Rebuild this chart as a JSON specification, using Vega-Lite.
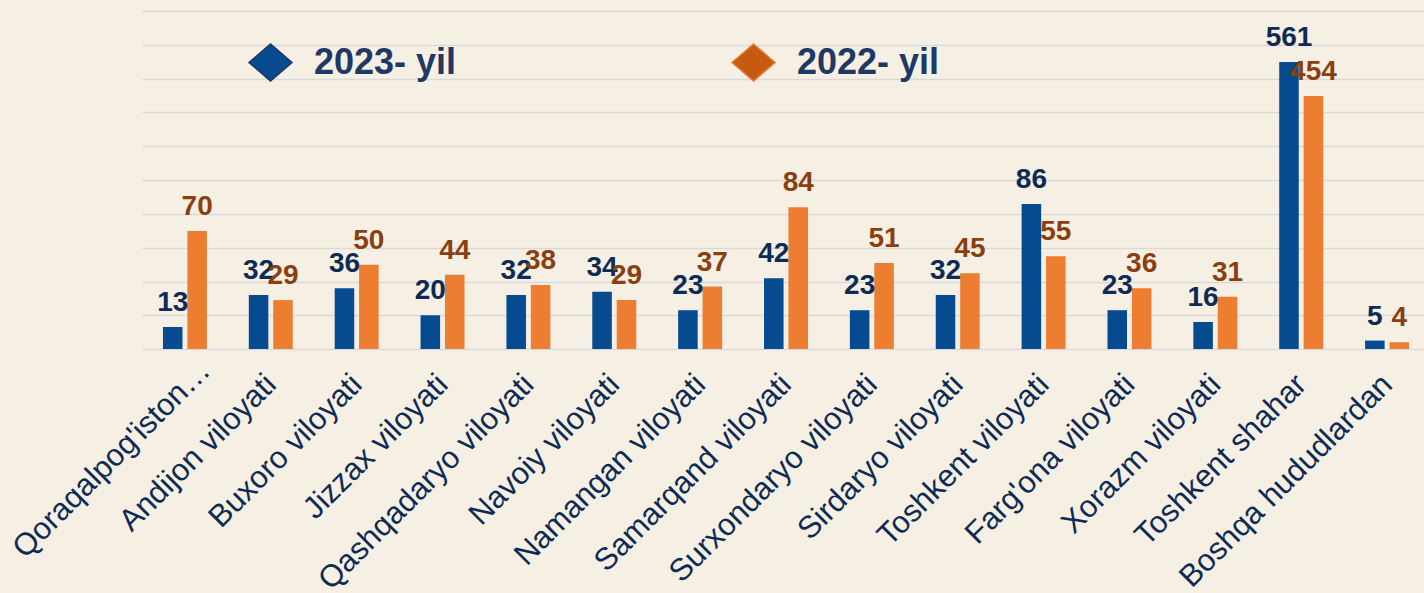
{
  "$schema": "https://vega.github.io/schema/vega-lite/v6.json",
  "width": 1282,
  "height": 338,
  "autosize": {"type": "none"},
  "padding": {"left": 142, "top": 11, "right": 0, "bottom": 244},
  "background": "#f6f0e4",
  "config": {"view": {"stroke": null}, "font": "Liberation Sans"},
  "data": {
    "values": [
      {"region": "Qoraqalpog'iston Respublikasi", "year": "2023- yil", "value": 13},
      {"region": "Qoraqalpog'iston Respublikasi", "year": "2022- yil", "value": 70},
      {"region": "Andijon viloyati", "year": "2023- yil", "value": 32},
      {"region": "Andijon viloyati", "year": "2022- yil", "value": 29},
      {"region": "Buxoro viloyati", "year": "2023- yil", "value": 36},
      {"region": "Buxoro viloyati", "year": "2022- yil", "value": 50},
      {"region": "Jizzax viloyati", "year": "2023- yil", "value": 20},
      {"region": "Jizzax viloyati", "year": "2022- yil", "value": 44},
      {"region": "Qashqadaryo viloyati", "year": "2023- yil", "value": 32},
      {"region": "Qashqadaryo viloyati", "year": "2022- yil", "value": 38},
      {"region": "Navoiy viloyati", "year": "2023- yil", "value": 34},
      {"region": "Navoiy viloyati", "year": "2022- yil", "value": 29},
      {"region": "Namangan viloyati", "year": "2023- yil", "value": 23},
      {"region": "Namangan viloyati", "year": "2022- yil", "value": 37},
      {"region": "Samarqand viloyati", "year": "2023- yil", "value": 42},
      {"region": "Samarqand viloyati", "year": "2022- yil", "value": 84},
      {"region": "Surxondaryo viloyati", "year": "2023- yil", "value": 23},
      {"region": "Surxondaryo viloyati", "year": "2022- yil", "value": 51},
      {"region": "Sirdaryo viloyati", "year": "2023- yil", "value": 32},
      {"region": "Sirdaryo viloyati", "year": "2022- yil", "value": 45},
      {"region": "Toshkent viloyati", "year": "2023- yil", "value": 86},
      {"region": "Toshkent viloyati", "year": "2022- yil", "value": 55},
      {"region": "Farg'ona viloyati", "year": "2023- yil", "value": 23},
      {"region": "Farg'ona viloyati", "year": "2022- yil", "value": 36},
      {"region": "Xorazm viloyati", "year": "2023- yil", "value": 16},
      {"region": "Xorazm viloyati", "year": "2022- yil", "value": 31},
      {"region": "Toshkent shahar", "year": "2023- yil", "value": 561},
      {"region": "Toshkent shahar", "year": "2022- yil", "value": 454},
      {"region": "Boshqa hududlardan", "year": "2023- yil", "value": 5},
      {"region": "Boshqa hududlardan", "year": "2022- yil", "value": 4}
    ]
  },
  "encoding": {
    "x": {
      "field": "region",
      "type": "nominal",
      "sort": null,
      "scale": {"range": [0, 1288], "paddingInner": 0.488, "paddingOuter": 0.244},
      "axis": {
        "title": null,
        "labelAngle": -45,
        "labelFontSize": 31,
        "labelColor": "#0d2b55",
        "domain": false,
        "ticks": false,
        "labelPadding": {"condition": {"test": "datum.value == \"Qoraqalpog'iston Respublikasi\"", "value": 6}, "value": 20},
        "labelOffset": {"condition": {"test": "datum.value == \"Qoraqalpog'iston Respublikasi\"", "value": 10}, "value": -10},
        "labelLimit": 400,
        "labelExpr": "datum.label == \"Qoraqalpog'iston Respublikasi\" ? \"Qoraqalpog'iston…\" : datum.label"
      }
    },
    "xOffset": {
      "field": "year",
      "type": "nominal",
      "sort": ["2023- yil", "2022- yil"],
      "scale": {"paddingInner": 0.2}
    },
    "y": {
      "field": "value",
      "type": "quantitative",
      "scale": {"domain": [0, 86, 454, 721], "range": [338, 193, 85, 0], "nice": false},
      "axis": {
        "title": null,
        "labels": false,
        "ticks": false,
        "domain": false,
        "values": [0, 20, 40, 60, 80, 167.8, 282.9, 398.1, 508.7, 615, 721],
        "gridColor": "#d9d9d9",
        "gridWidth": 1.5
      }
    }
  },
  "layer": [
    {
      "mark": {"type": "bar"},
      "encoding": {
        "color": {
          "field": "year",
          "type": "nominal",
          "sort": ["2023- yil", "2022- yil"],
          "scale": {"domain": ["2023- yil", "2022- yil"], "range": ["#064a90", "#ed7d31"]},
          "legend": null
        }
      }
    },
    {
      "mark": {"type": "text", "dy": -10, "baseline": "bottom", "fontSize": 28, "fontWeight": "bold"},
      "encoding": {
        "text": {"field": "value", "type": "quantitative"},
        "color": {
          "condition": {"test": "datum.year === '2023- yil'", "value": "#0d2b55"},
          "value": "#8b3f0f"
        }
      }
    },
    {
      "transform": [{"filter": "datum.value < 0"}],
      "mark": {"type": "point", "filled": true, "opacity": 1},
      "encoding": {
        "color": {
          "field": "year",
          "type": "nominal",
          "sort": ["2023- yil", "2022- yil"],
          "scale": {"domain": ["2023- yil", "2022- yil"], "range": ["#064a90", "#c55a11"]},
          "legend": {
            "title": null,
            "orient": "none",
            "legendX": 106,
            "legendY": 29,
            "direction": "horizontal",
            "symbolType": "M-1,0L0,-0.86L1,0L0,0.86Z",
            "symbolSize": 1849,
            "symbolStrokeWidth": 1.5,
            "symbolOpacity": 1,
            "labelFontSize": 36,
            "labelFontWeight": "bold",
            "labelColor": "#1f3864",
            "labelOffset": 21,
            "labelLimit": 400,
            "columnPadding": 272,
            "encode": {
              "symbols": {
                "update": {
                  "stroke": {"signal": "datum.value === '2022- yil' ? '#ed7d31' : '#1f3864'"}
                }
              }
            }
          }
        }
      }
    }
  ],
  "resolve": {"scale": {"color": "independent"}}
}
